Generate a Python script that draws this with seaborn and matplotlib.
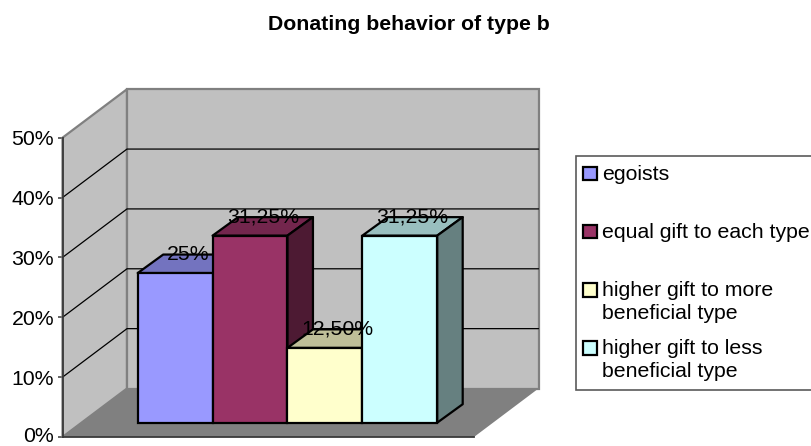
import matplotlib
matplotlib.use("Agg")
import matplotlib.pyplot as plt
import matplotlib.colors as mcolors
import seaborn as sns
from matplotlib.patches import Patch, Polygon

# --- Data ---
CATEGORIES = ["egoists", "equal gift to each type",
              "higher gift to more\nbeneficial type", "higher gift to less\nbeneficial type"]
VALUES = [25, 31.25, 12.5, 31.25]
VALUE_LABELS = ["25%", "31,25%", "12,50%", "31,25%"]
BAR_COLORS = ["#9999FF", "#993366", "#FFFFCC", "#CCFFFF"]
Y_TICKS = [0, 10, 20, 30, 40, 50]
TITLE = "Donating behavior of type b"

# --- Layout (pixels of the 811x446 picture) ---
W, H = 811, 446
PX_PER_PCT = 5.986
AXIS_LEFT, AXIS_BOTTOM, AXIS_RIGHT = 62.5, 437, 474
BAR_LEFT, BAR_RIGHT, BAR_BOTTOM = 137.7, 437.2, 422.7
WALL_DX, WALL_DY = 64.5, 48.5   # depth of the chart box
BAR_DX, BAR_DY = 25.5, 18.5     # depth of one bar
WALL_GREY = "#C0C0C0"
FLOOR_GREY = "#808080"
FONT_SIZE = 15.3


def px_rect(left, bottom, right):
    return [left / W, (H - bottom) / H, (right - left) / W, 50 * PX_PER_PCT / H]


def shade(color, factor):
    return tuple(c * factor for c in mcolors.to_rgb(color))


sns.set_theme(style="white")
plt.rcParams["font.family"] = ["Liberation Sans", "DejaVu Sans"]

fig = plt.figure(figsize=(W / 100, H / 100), dpi=100)
fig.suptitle(TITLE, x=408.5 / W, y=1 - 24 / H, va="center", fontsize=15.3, fontweight="bold", color="black")

# front plane of the box, holds the value axis, walls and floor
ax = fig.add_axes(px_rect(AXIS_LEFT, AXIS_BOTTOM, AXIS_RIGHT))
ax.set_xlim(0, 1)
ax.set_ylim(Y_TICKS[0], Y_TICKS[-1])
ax.patch.set_visible(False)
wx = WALL_DX / (AXIS_RIGHT - AXIS_LEFT)
wy = WALL_DY / PX_PER_PCT
top = Y_TICKS[-1]
wall_style = dict(edgecolor=FLOOR_GREY, linewidth=1.6, clip_on=False, zorder=1)
ax.add_patch(Polygon([(0, 0), (0, top), (wx, top + wy), (wx, wy)], facecolor=WALL_GREY, **wall_style))
ax.add_patch(Polygon([(wx, wy), (wx, top + wy), (1 + wx, top + wy), (1 + wx, wy)], facecolor=WALL_GREY, **wall_style))
ax.add_patch(Polygon([(0, 0), (1, 0), (1 + wx, wy), (wx, wy)], facecolor=FLOOR_GREY, edgecolor="none", clip_on=False, zorder=1))
for t in Y_TICKS[1:-1]:
    ax.plot([0, wx, 1 + wx], [t, t + wy, t + wy], color="black", lw=0.9, clip_on=False, zorder=2)
sns.despine(ax=ax, top=True, right=True)
for side in ["left", "bottom"]:
    ax.spines[side].set_color("#3a3a3a")
    ax.spines[side].set_linewidth(1.3)
    ax.spines[side].set_zorder(3)
ax.set_xticks([])
ax.set_yticks(Y_TICKS)
ax.set_yticklabels([f"{t}%" for t in Y_TICKS], fontsize=FONT_SIZE, color="black")
ax.tick_params(axis="y", left=True, length=3.5, width=1.1, color="#3a3a3a", pad=2.6)
# the lowest label sits right on the picture edge
ax.get_yticklabels()[0].set_va("center")

# bars sit a little behind the front plane
bar_ax = fig.add_axes(px_rect(BAR_LEFT, BAR_BOTTOM, BAR_RIGHT))
bar_ax.patch.set_visible(False)
sns.barplot(x=CATEGORIES, y=VALUES, hue=CATEGORIES, palette=BAR_COLORS, width=1, dodge=False,
            edgecolor="black", linewidth=1.6, saturation=1, legend=False, ax=bar_ax)
bar_ax.set_xlim(-0.5, len(VALUES) - 0.5)
bar_ax.set_ylim(Y_TICKS[0], Y_TICKS[-1])
bar_ax.axis("off")

bx = BAR_DX / ((BAR_RIGHT - BAR_LEFT) / len(VALUES))
by = BAR_DY / PX_PER_PCT
for i, (bar, color) in enumerate(zip(bar_ax.patches, BAR_COLORS)):
    x0, x1, h = bar.get_x(), bar.get_x() + bar.get_width(), bar.get_height()
    z = 3 + i
    face_style = dict(edgecolor="black", linewidth=1.6, joinstyle="round", clip_on=False, zorder=z)
    bar_ax.add_patch(Polygon([(x0, h), (x1, h), (x1 + bx, h + by), (x0 + bx, h + by)], facecolor=shade(color, 0.75), **face_style))
    bar_ax.add_patch(Polygon([(x1, 0), (x1, h), (x1 + bx, h + by), (x1 + bx, by)], facecolor=shade(color, 0.5), **face_style))
    bar.set_zorder(z + 0.5)
    bar.set_clip_on(False)
    bar_ax.text((x0 + x1) / 2 + bx / 2, h + by, VALUE_LABELS[i], ha="center", va="center",
                fontsize=FONT_SIZE, color="black", zorder=20)

# every entry takes two lines, the spare line keeps the rows evenly spaced
handles = [Patch(facecolor=c, edgecolor="black", linewidth=1.6) for c in BAR_COLORS]
labels = [c if "\n" in c else c + "\n " for c in CATEGORIES]
leg = fig.legend(handles, labels, loc="upper left", bbox_to_anchor=(576 / W, 1 - 155.7 / H),
                 bbox_transform=fig.transFigure, fontsize=FONT_SIZE, frameon=True, fancybox=False,
                 edgecolor="#5a5a5a", framealpha=1, borderaxespad=0, borderpad=0.44, labelspacing=0.79,
                 handlelength=0.62, handleheight=0.62, handletextpad=0.17, labelcolor="black", alignment="left")
leg.get_frame().set_linewidth(1.2)
for text in leg.get_texts():
    text.set_linespacing(1.22)
for handle in leg.legend_handles:
    handle.set_y(handle.get_y() + 8.8)
    handle.set_x(handle.get_x() - 1.4)

fig.savefig("out.png", dpi=100, facecolor="white")
